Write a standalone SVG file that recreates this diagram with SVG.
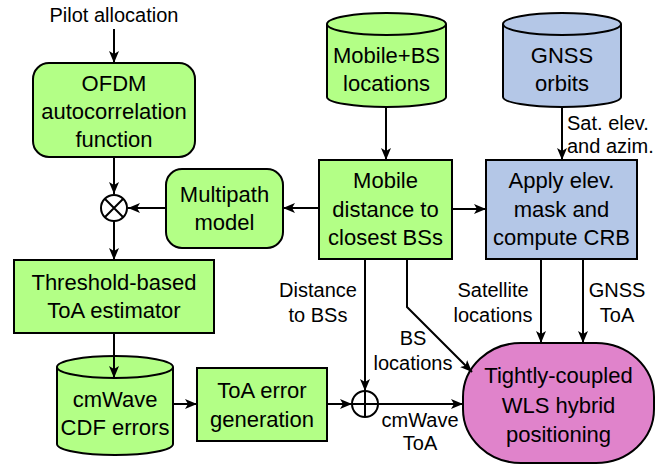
<svg xmlns="http://www.w3.org/2000/svg" width="656" height="466" viewBox="0 0 656 466">
  <style>
    .g { fill: #b3ff86; stroke: #000; stroke-width: 2; }
    .b { fill: #b4c7e7; stroke: #000; stroke-width: 2; }
    .p { fill: #e083cb; stroke: #000; stroke-width: 2; }
    .t { font-family: "Liberation Sans", Arial, sans-serif; font-size: 22px; fill: #000; text-anchor: middle; }
    .l { font-family: "Liberation Sans", Arial, sans-serif; font-size: 20px; fill: #000; text-anchor: middle; }
    .ls { text-anchor: start; }
    .w { fill: none; stroke: #000; stroke-width: 2; }
    .op { fill: #fff; stroke: #000; stroke-width: 2; }
  </style>
  <defs>
    <marker id="arrow" viewBox="0 0 12 12" refX="12" refY="6" markerWidth="12" markerHeight="12" markerUnits="userSpaceOnUse" orient="auto">
      <path d="M0,1 L12,6 L0,11 L3,6 Z" fill="#000"/>
    </marker>
  </defs>

  <rect width="656" height="466" fill="#fff"/>

  <!-- OFDM autocorrelation function -->
  <g id="ofdm">
    <rect class="g" x="33" y="63" width="162" height="94" rx="16"/>
    <text class="t" x="114" y="91">OFDM</text>
    <text class="t" x="114" y="119">autocorrelation</text>
    <text class="t" x="114" y="147">function</text>
  </g>

  <!-- multiplier -->
  <g id="multiply">
    <circle class="op" cx="114" cy="208" r="13"/>
    <path class="w" d="M104.8,198.8 L123.2,217.2 M123.2,198.8 L104.8,217.2"/>
  </g>

  <!-- Multipath model -->
  <g id="multipath">
    <rect class="g" x="166" y="169" width="117" height="79" rx="16"/>
    <text class="t" x="224.5" y="202">Multipath</text>
    <text class="t" x="224.5" y="230">model</text>
  </g>

  <!-- Mobile+BS locations (database) -->
  <g id="mobile-bs-db">
    <path class="g" d="M327,24 V97 A59.5,10 0 0 0 446,97 V24"/>
    <ellipse class="g" cx="386.5" cy="24" rx="59.5" ry="11"/>
    <text class="t" x="386.5" y="63">Mobile+BS</text>
    <text class="t" x="386.5" y="91">locations</text>
  </g>

  <!-- GNSS orbits (database) -->
  <g id="gnss-db">
    <path class="b" d="M503,24 V97 A59,10 0 0 0 621,97 V24"/>
    <ellipse class="b" cx="562" cy="24" rx="59" ry="11"/>
    <text class="t" x="562" y="63">GNSS</text>
    <text class="t" x="562" y="91">orbits</text>
  </g>

  <!-- Mobile distance to closest BSs -->
  <g id="distance">
    <rect class="g" x="319" y="160" width="133" height="99"/>
    <text class="t" x="385.5" y="188">Mobile</text>
    <text class="t" x="385.5" y="217">distance to</text>
    <text class="t" x="385.5" y="245">closest BSs</text>
  </g>

  <!-- Apply elevation mask and compute CRB -->
  <g id="crb">
    <rect class="b" x="486" y="160" width="151" height="99"/>
    <text class="t" x="561.5" y="188">Apply elev.</text>
    <text class="t" x="561.5" y="217">mask and</text>
    <text class="t" x="561.5" y="245">compute CRB</text>
  </g>

  <!-- Threshold-based ToA estimator -->
  <g id="threshold">
    <rect class="g" x="14" y="260" width="200" height="73"/>
    <text class="t" x="114" y="290">Threshold-based</text>
    <text class="t" x="114" y="318">ToA estimator</text>
  </g>

  <!-- cmWave CDF errors (database) -->
  <g id="cdf-db">
    <path class="g" d="M57,367 V444 A58,11 0 0 0 173,444 V367"/>
    <ellipse class="g" cx="115" cy="367" rx="58" ry="11"/>
    <text class="t" x="115" y="407">cmWave</text>
    <text class="t" x="115" y="435">CDF errors</text>
  </g>

  <!-- ToA error generation -->
  <g id="toa-gen">
    <rect class="g" x="197" y="368" width="130" height="73"/>
    <text class="t" x="262" y="398">ToA error</text>
    <text class="t" x="262" y="427">generation</text>
  </g>

  <!-- adder -->
  <g id="adder">
    <circle class="op" cx="365" cy="404" r="13"/>
    <path class="w" d="M352,404 H378 M365,391 V417"/>
  </g>

  <!-- Tightly-coupled WLS hybrid positioning -->
  <g id="wls">
    <rect class="p" x="463" y="343" width="191" height="120" rx="58" ry="54"/>
    <text class="t" x="558.5" y="383">Tightly-coupled</text>
    <text class="t" x="558.5" y="413">WLS hybrid</text>
    <text class="t" x="558.5" y="442">positioning</text>
  </g>

  <!-- connectors -->
  <g id="connectors" class="w" marker-end="url(#arrow)">
    <path d="M114,29 V63"/>
    <path d="M114,157 V194"/>
    <path d="M114,221 V260"/>
    <path d="M166,208 H128"/>
    <path d="M319,208 H283"/>
    <path d="M452,209 H486"/>
    <path d="M386,106 V160"/>
    <path d="M562,106 V160"/>
    <path d="M114,333 V378"/>
    <path d="M173,404 H197"/>
    <path d="M327,404 H352"/>
    <path d="M378,404 H463"/>
    <path d="M365,259 V391"/>
    <path d="M407,259 V307 L472,372"/>
    <path d="M541,259 V343"/>
    <path d="M583,259 V343"/>
  </g>

  <!-- edge labels -->
  <g id="labels">
    <text class="l" x="114" y="22">Pilot allocation</text>
    <text class="l ls" x="567" y="130">Sat. elev.</text>
    <text class="l ls" x="567" y="153">and azim.</text>
    <text class="l" x="318" y="297">Distance</text>
    <text class="l" x="318" y="322">to BSs</text>
    <text class="l" x="413" y="345">BS</text>
    <text class="l" x="413" y="370">locations</text>
    <text class="l" x="493" y="297">Satellite</text>
    <text class="l" x="493" y="322">locations</text>
    <text class="l" x="617" y="297">GNSS</text>
    <text class="l" x="617" y="322">ToA</text>
    <text class="l" x="420" y="427">cmWave</text>
    <text class="l" x="420" y="450">ToA</text>
  </g>
</svg>
